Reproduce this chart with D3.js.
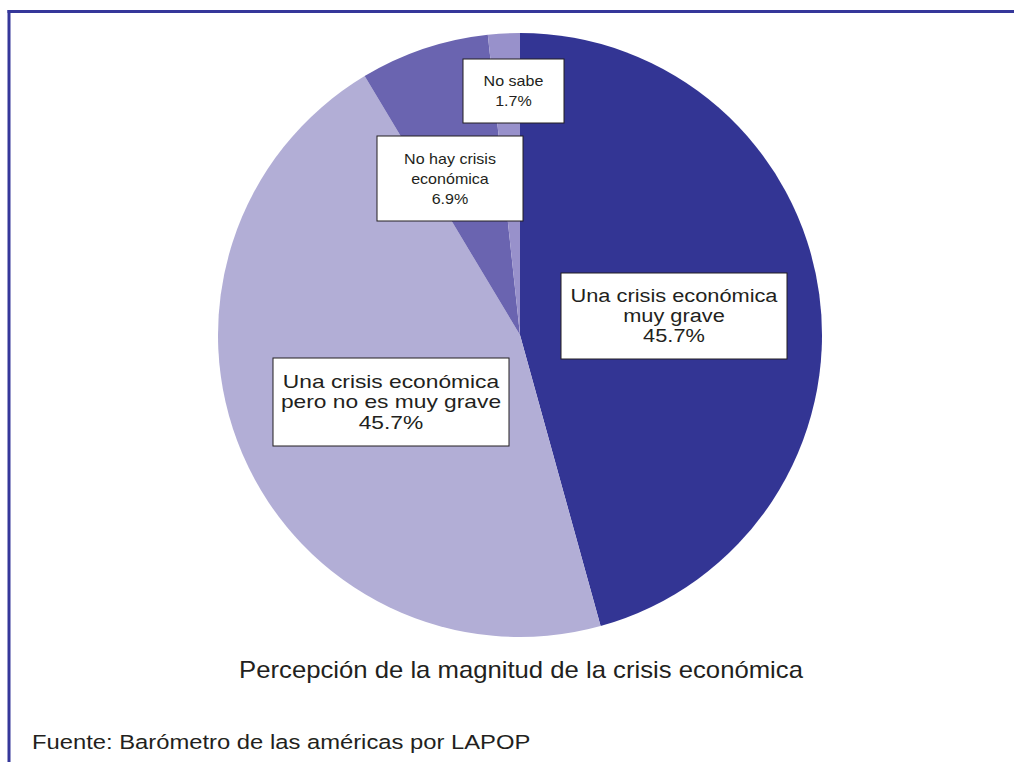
<!DOCTYPE html>
<html>
<head>
<meta charset="utf-8">
<script src="https://cdn.jsdelivr.net/npm/d3@7"></script>
<style>
  html, body { margin: 0; padding: 0; background: #ffffff; }
  svg { display: block; }
  text { font-family: "Liberation Sans", Arial, sans-serif; fill: #231f20; }
</style>
</head>
<body>
<svg id="chart" width="1014" height="762"></svg>
<script>
// Survey answers, in drawing order (clockwise from 12 o'clock)
const categories = [
  "Una crisis económica muy grave",
  "Una crisis económica pero no es muy grave",
  "No hay crisis económica",
  "No sabe"
];
const values = [45.7, 45.7, 6.9, 1.7];
const colors = ["#333594", "#b2aed6", "#6a64b0", "#9891cb"];

// Label box text lines for each slice
const labelLines = [
  ["Una crisis económica", "muy grave"],
  ["Una crisis económica", "pero no es muy grave"],
  ["No hay crisis", "económica"],
  ["No sabe"]
];
// Label boxes: centre position, box size, font size, line height, glyph widening
const labelBoxes = [
  { cx: 674, cy: 316, w: 226, h: 86, fs: 18, lh: 20, sx: 1.21 },
  { cx: 391, cy: 402, w: 236, h: 88, fs: 18.5, lh: 20.5, sx: 1.23 },
  { cx: 450, cy: 178.5, w: 146, h: 85, fs: 15, lh: 20, sx: 1.07 },
  { cx: 513.5, cy: 91, w: 101, h: 64, fs: 15, lh: 20, sx: 1.07 }
];

const title = "Percepción de la magnitud de la crisis económica";
const source = "Fuente: Barómetro de las américas por LAPOP";

const svg = d3.select("#chart");
const frameColor = "#35379a";

// Widen a text element's glyphs by a factor, keeping its anchor
function widen(sel, factor) {
  sel.each(function () {
    const len = this.getComputedTextLength();
    d3.select(this)
      .attr("textLength", len * factor)
      .attr("lengthAdjust", "spacingAndGlyphs");
  });
}

// Frame: top and left rules
svg.append("line")
  .attr("x1", 7.5).attr("x2", 1014).attr("y1", 11.5).attr("y2", 11.5)
  .attr("stroke", frameColor).attr("stroke-width", 3);
svg.append("line")
  .attr("x1", 9).attr("x2", 9).attr("y1", 10).attr("y2", 762)
  .attr("stroke", frameColor).attr("stroke-width", 3);

// Pie
const cx = 520, cy = 335, r = 302;
const data = categories.map((c, i) => ({ name: c, value: values[i], i }));
const pie = d3.pie().value(d => d.value).sort(null);
const arc = d3.arc().innerRadius(0).outerRadius(r);

const g = svg.append("g").attr("transform", `translate(${cx},${cy})`);
g.selectAll("path.slice")
  .data(pie(data))
  .join("path")
  .attr("class", "slice")
  .attr("d", arc)
  .attr("fill", d => colors[d.data.i]);

// Label boxes
const labels = svg.append("g");
data.forEach((d, i) => {
  const b = labelBoxes[i];
  const lines = labelLines[i].concat([d3.format(".1f")(d.value) + "%"]);
  const lg = labels.append("g");
  lg.append("rect")
    .attr("x", b.cx - b.w / 2).attr("y", b.cy - b.h / 2)
    .attr("width", b.w).attr("height", b.h)
    .attr("fill", "#ffffff").attr("stroke", "#231f20").attr("stroke-width", 1);
  const n = lines.length;
  lines.forEach((t, k) => {
    const txt = lg.append("text")
      .attr("x", b.cx)
      .attr("y", b.cy + (k - (n - 1) / 2) * b.lh)
      .attr("dy", "0.35em")
      .attr("text-anchor", "middle")
      .attr("font-size", b.fs)
      .text(t);
    widen(txt, b.sx);
  });
});

// Title and source
const titleText = svg.append("text")
  .attr("x", 521).attr("y", 670).attr("dy", "0.35em")
  .attr("text-anchor", "middle").attr("font-size", 24)
  .text(title);
widen(titleText, 1.07);
const sourceText = svg.append("text")
  .attr("x", 32).attr("y", 742).attr("dy", "0.35em")
  .attr("font-size", 20.5)
  .text(source);
widen(sourceText, 1.16);
</script>
</body>
</html>
